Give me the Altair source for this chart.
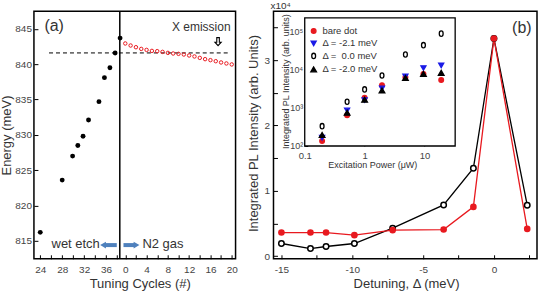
import altair as alt
import pandas as pd

# ---------------- panel (a) data ----------------
wet_cycles = [24, 28, 29.9, 30.85, 31.8, 32.8, 34.7, 35.7, 36.7, 37.65, 38.55]
wet_energy = [816.2, 823.6, 827.0, 828.5, 829.8, 832.1, 834.7, 838.1, 839.5, 841.6, 843.7]
n2_cycles = list(range(0, 21))
n2_energy = [842.94, 842.65, 842.41, 842.17, 842.03, 841.89, 841.85, 841.75, 841.61,
             841.52, 841.47, 841.38, 841.24, 841.10, 840.90, 840.72, 840.58, 840.43,
             840.25, 840.11, 839.97]
x_emission_energy = 841.6
wet_tick_values = [24, 26, 28, 30, 32, 34, 36, 38]
n2_tick_values = [0, 2, 4, 6, 8, 10, 12, 14, 16, 18, 20]
energy_ticks = [815, 820, 825, 830, 835, 840, 845]

# ---------------- panel (b) data ----------------
detuning = [-15.0, -12.95, -11.85, -9.85, -7.15, -3.55, -1.45, 0.0, 2.35]
red_intensity = [0.361, 0.361, 0.361, 0.321, 0.398, 0.407, 0.754, 3.333, 0.417]
black_intensity = [0.193, 0.116, 0.147, 0.193, 0.428, 0.784, 1.346, 3.333, 0.780]
detuning_ticks = [-15, -12.5, -10, -7.5, -5, -2.5, 0, 2.5]
intensity_ticks = [0, 0.5, 1, 1.5, 2, 2.5, 3, 3.5]

# ---------------- inset data ----------------
power = [0.195, 0.51, 1.0, 1.95, 4.8, 9.6, 19.0]
inset_series = ["bare dot", "Δ = -2.1 meV", "Δ =\u00a0\u00a00.0 meV", "Δ = -2.0 meV"]
inset_bare = [135, 635, 1820, 3900, 6300, 7700, 5300]
inset_m21 = [165, 855, 1590, 3230, 6600, 11000, 12800]
inset_00 = [330, 1435, 3020, 7000, 24800, 43400, 87000]
inset_m20 = [194, 740, 1620, 2840, 6000, 7700, 8200]
inset_power_ticks = [0.1, 1, 10]
inset_int_ticks = [100, 1000, 10000, 100000]

RED = "#e8191f"
BLUE_ARROW = "#4f81bd"
TXT = "#333333"

# ---------------- layout constants ----------------
WA, HA = 202, 248
WB, HB = 264, 248

# broken x axis of panel (a): N2 cycles are drawn after the wet-etch cycles
N2_ORIGIN, N2_SCALE, BREAK_X = 39.5, 0.97, 38.5


def n2_pos(c):
    return N2_ORIGIN + N2_SCALE * c


common_axis = dict(domain=False, grid=False, tickColor="black", tickWidth=1,
                   labelFlush=False, labelOverlap=False)

# ================= panel (a) =================
a_tick_positions = wet_tick_values + [n2_pos(c) for c in n2_tick_values]
xa_label_expr = ("datum.value < 38.9 ? (datum.value % 4 == 0 ? '' + datum.value : '') : "
                 "(round((datum.value - 39.5) / 0.97) % 4 == 0 ? '' + round((datum.value - 39.5) / 0.97) : '')")
xa = alt.X("x:Q", scale=alt.Scale(domain=[22.85, 59.6], nice=False, zero=False),
           axis=alt.Axis(values=a_tick_positions, labelExpr=xa_label_expr, offset=-4, tickSize=4,
                         labelPadding=5.5, title="Tuning Cycles (#)", titleX=106, titleY=29,
                         titleBaseline="middle", titleAlign="center", **common_axis))
ya = alt.Y("E:Q", scale=alt.Scale(domain=[812.46, 847.5], nice=False, zero=False),
           axis=alt.Axis(values=energy_ticks, offset=-4, tickSize=4, labelPadding=2.5,
                         title="Energy (meV)", titleX=-31, titleY=124, titleAngle=270,
                         titleBaseline="middle", titleAlign="center", **common_axis))

wet_df = pd.DataFrame({"x": wet_cycles, "E": wet_energy})
n2_df = pd.DataFrame({"x": [n2_pos(c) for c in n2_cycles], "E": n2_energy})
dash_df = pd.DataFrame({"x": [25.6], "x2": [58.7], "E": [x_emission_energy]})
div_df = pd.DataFrame({"x": [BREAK_X]})

ann_a = pd.DataFrame({
    "x": [26.54, 58.69],
    "E": [845.38, 845.24],
    "t": ["(a)", "X emission"],
})
down_arrow = pd.DataFrame({"x": [56.41], "E": [843.2]})
bottom_txt = pd.DataFrame({"x": [34.86, 42.62], "E": [814.5, 814.5], "t": ["wet etch", "N2 gas"]})
arrow_shaft = pd.DataFrame({"x": [35.6, 39.17], "x2": [37.95, 41.3], "E": [814.4, 814.4]})
arrow_head_l = pd.DataFrame({"x": [35.45], "E": [814.4]})
arrow_head_r = pd.DataFrame({"x": [41.55], "E": [814.4]})

hollow_down = "M-0.32,-1L0.32,-1L0.32,0.15L0.78,0.15L0,1L-0.78,0.15L-0.32,0.15Z"

a_dash = alt.Chart(dash_df).mark_rule(color="black", strokeWidth=1, strokeDash=[4, 3]).encode(
    x=xa, x2="x2:Q", y=ya)
a_div = alt.Chart(div_df).mark_rule(color="black", strokeWidth=1.5).encode(x=xa)
a_wet = alt.Chart(wet_df).mark_circle(color="black", size=24, opacity=1).encode(x=xa, y=ya)
a_n2 = alt.Chart(n2_df).mark_point(color=RED, size=12, strokeWidth=1, opacity=1).encode(x=xa, y=ya)
a_lab = alt.Chart(ann_a.iloc[[0]]).mark_text(fontSize=16, color=TXT, baseline="middle").encode(
    x=xa, y=ya, text="t:N")
a_xem = alt.Chart(ann_a.iloc[[1]]).mark_text(fontSize=12, color=TXT, align="right", baseline="middle").encode(
    x=xa, y=ya, text="t:N")
a_arr = alt.Chart(down_arrow).mark_point(shape=hollow_down, filled=False, color="black", size=64,
                                         strokeWidth=1.1, opacity=1).encode(x=xa, y=ya)
a_wet_t = alt.Chart(bottom_txt.iloc[[0]]).mark_text(fontSize=13, color=TXT, align="right",
                                                    baseline="middle").encode(x=xa, y=ya, text="t:N")
a_n2_t = alt.Chart(bottom_txt.iloc[[1]]).mark_text(fontSize=13, color=TXT, align="left",
                                                   baseline="middle").encode(x=xa, y=ya, text="t:N")
a_shaft = alt.Chart(arrow_shaft).mark_rule(color=BLUE_ARROW, strokeWidth=4).encode(x=xa, x2="x2:Q", y=ya)
a_head_l = alt.Chart(arrow_head_l).mark_point(shape="triangle-left", filled=True, color=BLUE_ARROW,
                                              size=45, opacity=1).encode(x=xa, y=ya)
a_head_r = alt.Chart(arrow_head_r).mark_point(shape="triangle-right", filled=True, color=BLUE_ARROW,
                                              size=45, opacity=1).encode(x=xa, y=ya)

panel_a = alt.layer(a_dash, a_div, a_wet, a_n2, a_lab, a_xem, a_arr, a_wet_t, a_n2_t,
                    a_shaft, a_head_l, a_head_r).properties(width=WA, height=HA)

# ================= panel (b) =================
b_df = pd.DataFrame({
    "d": detuning * 2,
    "v": red_intensity + black_intensity,
    "s": ["red"] * len(detuning) + ["black"] * len(detuning),
})
xb = alt.X("d:Q", scale=alt.Scale(domain=[-15.56, 3.04], nice=False, zero=False),
           axis=alt.Axis(values=detuning_ticks,
                         labelExpr="datum.value % 5 == 0 ? '' + datum.value : ''",
                         offset=-4, tickSize=4, labelPadding=5.5, title="Detuning, Δ (meV)",
                         titleX=132.8, titleY=29, titleBaseline="middle", titleAlign="center",
                         **common_axis))
yb = alt.Y("v:Q", scale=alt.Scale(domain=[-0.041, 3.75], nice=False, zero=False),
           axis=alt.Axis(values=intensity_ticks,
                         labelExpr="datum.value % 1 == 0 ? '' + datum.value : ''",
                         offset=-4, tickSize=4, labelPadding=4,
                         title="Integrated PL Intensity (arb. Units)", titleX=-24, titleY=122,
                         titleAngle=270, titleBaseline="middle", titleAlign="center",
                         **common_axis))

base_b = alt.Chart(b_df)
b_line_k = base_b.mark_line(color="black", strokeWidth=1.3).encode(x=xb, y=yb).transform_filter(
    "datum.s == 'black'")
b_line_r = base_b.mark_line(color=RED, strokeWidth=1.3).encode(x=xb, y=yb).transform_filter(
    "datum.s == 'red'")
b_pt_k = base_b.mark_point(shape="circle", filled=False, color="black", fill="white", size=30,
                           strokeWidth=1.5, opacity=1).encode(x=xb, y=yb).transform_filter(
    "datum.s == 'black'")
b_pt_r = base_b.mark_circle(color=RED, size=44, opacity=1).encode(x=xb, y=yb).transform_filter(
    "datum.s == 'red'")
b_lab = alt.Chart(pd.DataFrame({"d": [1.97], "v": [3.49], "t": ["(b)"]})).mark_text(
    fontSize=16, color=TXT, baseline="middle").encode(x=xb, y=yb, text="t:N")
b_exp = alt.Chart(pd.DataFrame({"t": ["x10⁴"]})).mark_text(
    fontSize=10, color=TXT, align="left", baseline="top").encode(
    x=alt.value(-3), y=alt.value(-10), text="t:N")

main_b = alt.layer(b_line_k, b_line_r, b_pt_k, b_pt_r, b_lab, b_exp)

# ---------- inset, placed inside panel (b) through its own log scales ----------
IX0 = 31.3      # x pixel of 0.1 uW inside panel (b)
IX_DEC = 60.0   # pixels per decade (x)
IY0 = 113.0     # y pixel (from bottom) of 1e2
IY_DEC = 38.3   # pixels per decade (y)
inset_x_dom = [10 ** (-1 - IX0 / IX_DEC), 10 ** (-1 + (WB - IX0) / IX_DEC)]
inset_y_dom = [10 ** (2 - IY0 / IY_DEC), 10 ** (2 + (HB - IY0) / IY_DEC)]
inset_box = pd.DataFrame({"P": [0.1], "P2": [32.5], "I": [100.0], "I2": [2.24e5]})

inset_df = pd.DataFrame({
    "P": power * 4,
    "I": inset_bare + inset_m21 + inset_00 + inset_m20,
    "series": sum([[s] * len(power) for s in inset_series], []),
})

xi = alt.X("P:Q", scale=alt.Scale(type="log", domain=inset_x_dom, nice=False, zero=False),
           axis=alt.Axis(orient="bottom", values=inset_power_ticks,
                         labelExpr="datum.value < 0.5 ? '0.1' : (datum.value < 5 ? '1' : '10')",
                         offset=-(IY0 + 3), tickSize=3, labelPadding=4.5, labelFontSize=9.5,
                         title="Excitation Power (μW)", titleFontSize=9, titleX=99, titleY=21.5,
                         titleBaseline="middle", titleAlign="center", **common_axis))
yi = alt.Y("I:Q", scale=alt.Scale(type="log", domain=inset_y_dom, nice=False, zero=False),
           axis=alt.Axis(orient="left", values=inset_int_ticks,
                         labelExpr="datum.value == 100 ? '10²' : (datum.value == 1000 ? '10³' : "
                                   "(datum.value == 10000 ? '10⁴' : '10⁵'))",
                         offset=-(IX0 + 3), tickSize=3, labelPadding=2, labelFontSize=9,
                         title="Integrated PL Intensity (arb. units)", titleFontSize=9,
                         titleX=-22.3, titleY=70, titleAngle=270, titleBaseline="middle",
                         titleAlign="center", **common_axis))

ellipse = "M0,-1A0.72,1,0,1,1,0,1A0.72,1,0,1,1,0,-1Z"
leg = alt.Legend(orient="none", legendX=35.5, legendY=15, title=None, labelFontSize=9.5,
                 labelColor=TXT, padding=0, rowPadding=1.5, labelOffset=4,
                 symbolStrokeWidth=1.3, symbolOpacity=1)

i_box = alt.Chart(inset_box).mark_rect(fill="white", stroke="black", strokeWidth=1.3).encode(
    x=xi, x2="P2:Q", y=yi, y2="I2:Q")
i_pts = alt.Chart(inset_df).mark_point(opacity=1, strokeWidth=1.3).encode(
    x=xi, y=yi,
    fill=alt.Fill("series:N", scale=alt.Scale(domain=inset_series,
                                              range=[RED, "#1a1ae6", "white", "black"]), legend=leg),
    stroke=alt.Stroke("series:N", scale=alt.Scale(domain=inset_series,
                                                  range=[RED, "#1a1ae6", "black", "black"]), legend=leg),
    shape=alt.Shape("series:N", scale=alt.Scale(domain=inset_series,
                                                range=["circle", "triangle-down", ellipse, "triangle-up"]),
                    legend=leg),
    size=alt.Size("series:N", scale=alt.Scale(domain=inset_series, range=[22, 32, 42, 32]), legend=leg),
)
inset_b = alt.layer(i_box, i_pts)

panel_b = alt.layer(main_b, inset_b).resolve_scale(x="independent", y="independent").properties(
    width=WB, height=HB)

chart = alt.hconcat(panel_a, panel_b, spacing=38, bounds="flush").resolve_scale(
    fill="independent", stroke="independent", shape="independent", size="independent"
).properties(
    padding={"left": 0, "top": 0, "right": 0, "bottom": 0}
).configure(font="Liberation Sans").configure_view(
    stroke="black", strokeWidth=1.5
).configure_axis(
    labelFont="Liberation Sans", labelFontSize=10, labelColor="#444444",
    titleFont="Liberation Sans", titleFontSize=13, titleFontWeight="normal", titleColor=TXT,
).configure_legend(labelFont="Liberation Sans")

chart.save("out.html", embed_options={"renderer": "svg", "actions": False})
